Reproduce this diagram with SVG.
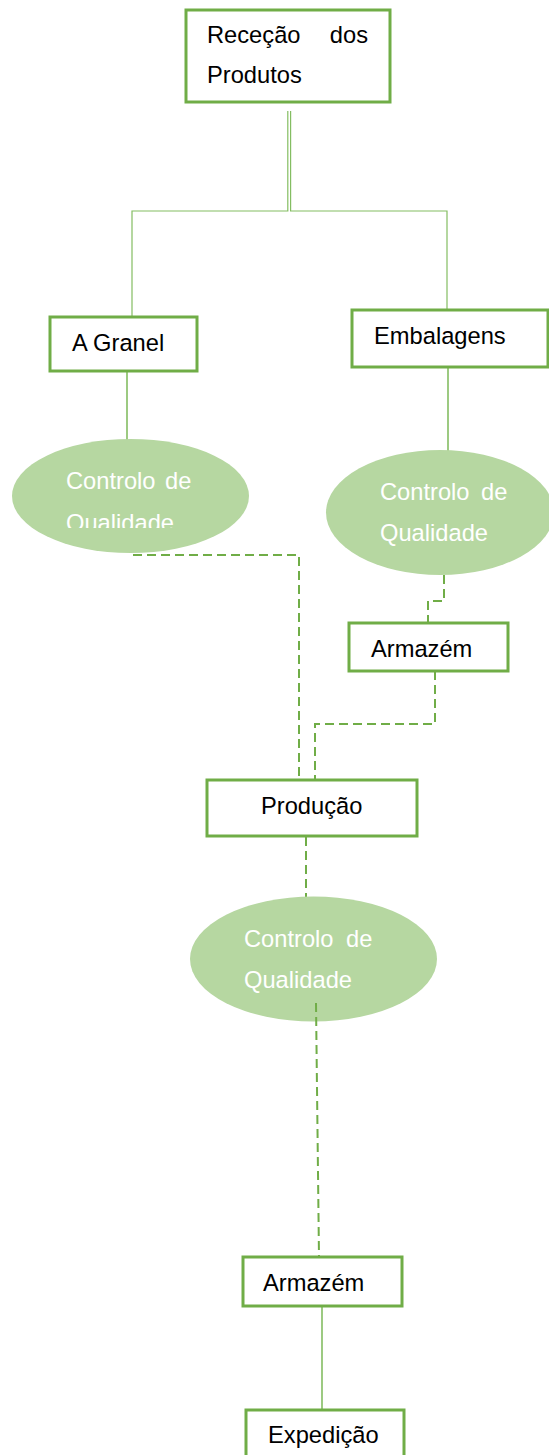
<svg xmlns="http://www.w3.org/2000/svg" width="549" height="1455" viewBox="0 0 549 1455">
<style>
.box{fill:#ffffff;stroke:#70ad47;stroke-width:3}
.ell{fill:#b6d7a1;stroke:none}
.t{font-family:"Liberation Sans",Arial,sans-serif;font-size:23.7px;fill:#000000}
.tw{font-family:"Liberation Sans",Arial,sans-serif;font-size:23.7px;fill:#ffffff}
.solid{fill:none;stroke:#84bd62;stroke-width:1.6}
.thin{fill:none;stroke:#84bd62;stroke-width:1.2}
.dash{fill:none;stroke:#70ad47;stroke-width:2;stroke-dasharray:9 5}
</style>
<defs>
<clipPath id="clipQ"><rect x="0" y="500" width="260" height="28"/></clipPath>
</defs>
<rect width="549" height="1455" fill="#ffffff"/>
<g id="connectors">
<path class="thin" d="M132,317 V211 H287.8 V111"/>
<path class="thin" d="M447,310 V211 H290.6 V111"/>
<path class="solid" d="M127,371 V443"/>
<path class="solid" d="M448,367 V451"/>
<path class="dash" d="M133,555 H299 V780"/>
<path class="dash" d="M444,575 V601 H428 V623"/>
<path class="dash" d="M435,671 V724 H315 V780"/>
<path class="dash" d="M306,837 V898"/>
<path class="solid" d="M322,1306 V1410"/>
</g>
<g id="n_rececao">
<rect class="box" x="186" y="10" width="204" height="92"/>
<text class="t" x="207" y="43">Receção</text>
<text class="t" x="368" y="43" text-anchor="end">dos</text>
<text class="t" x="207" y="83">Produtos</text>
</g>
<g id="n_granel">
<rect class="box" x="50" y="317" width="147" height="54"/>
<text class="t" x="72" y="351">A Granel</text>
</g>
<g id="n_embalagens">
<rect class="box" x="352" y="310" width="196" height="57"/>
<text class="t" x="374" y="344">Embalagens</text>
</g>
<g id="n_cq1">
<ellipse class="ell" cx="130.5" cy="496" rx="118.5" ry="57"/>
<text class="tw" x="66" y="489">Controlo<tspan x="165">de</tspan></text>
<text class="tw" x="66" y="531" clip-path="url(#clipQ)">Qualidade</text>
</g>
<g id="n_cq2">
<ellipse class="ell" cx="440" cy="512.5" rx="114" ry="62.5"/>
<text class="tw" x="380" y="500">Controlo<tspan x="481">de</tspan></text>
<text class="tw" x="380" y="541">Qualidade</text>
</g>
<g id="n_armazem1">
<rect class="box" x="349" y="623" width="159" height="48"/>
<text class="t" x="371" y="657">Armazém</text>
</g>
<g id="n_producao">
<rect class="box" x="207" y="780" width="210" height="56"/>
<text class="t" x="261" y="814">Produção</text>
</g>
<g id="n_cq3">
<ellipse class="ell" cx="313.5" cy="959" rx="123.5" ry="62.5"/>
<text class="tw" x="244" y="947">Controlo<tspan x="346">de</tspan></text>
<text class="tw" x="244" y="988">Qualidade</text>
</g>
<g id="connectors2">
<path class="dash" d="M316,1003 L319,1257"/>
</g>
<g id="n_armazem2">
<rect class="box" x="243" y="1257" width="159" height="49"/>
<text class="t" x="263" y="1291">Armazém</text>
</g>
<g id="n_expedicao">
<rect class="box" x="246" y="1410" width="158" height="60"/>
<text class="t" x="268" y="1443">Expedição</text>
</g>
</svg>
